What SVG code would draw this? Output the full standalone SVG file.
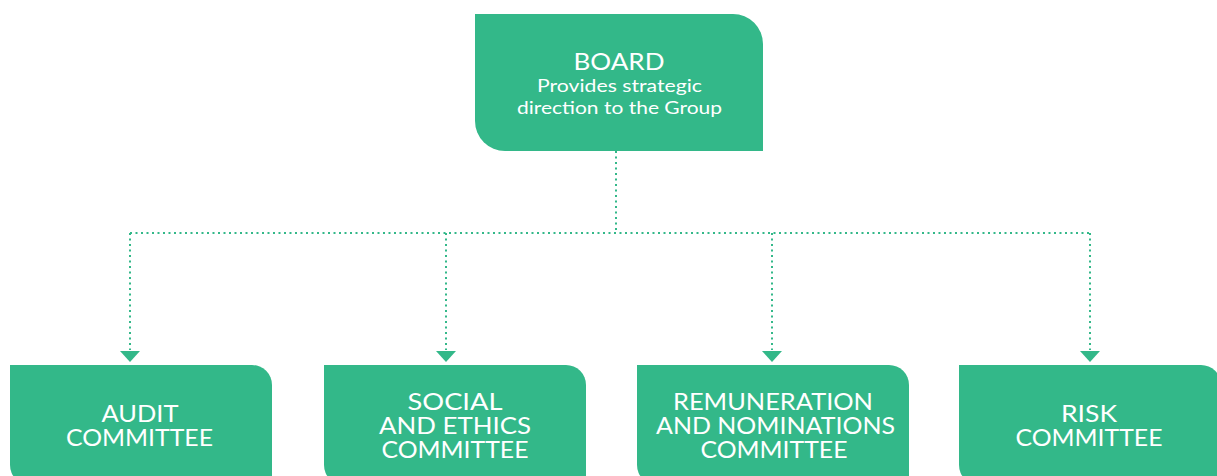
<svg xmlns="http://www.w3.org/2000/svg" width="1217" height="476" viewBox="0 0 1217 476">
<style>
.box{fill:#33b889}
.t{font-family:Lato,"Liberation Sans",sans-serif;fill:#ffffff;text-anchor:middle;font-size:23px}
.s{font-family:Lato,"Liberation Sans",sans-serif;fill:#ffffff;text-anchor:middle;font-size:17px}
.dot{fill:none;stroke:#33b889;stroke-width:2;stroke-dasharray:2 3.5}
.arr{fill:#33b889}
</style>
<rect width="1217" height="476" fill="#ffffff"/>
<g id="connectors">
<path class="dot" d="M616 151 V233"/>
<path class="dot" d="M130 233 H1090"/>
<path class="dot" d="M130 233 V350"/>
<path class="dot" d="M446 233 V350"/>
<path class="dot" d="M772 233 V350"/>
<path class="dot" d="M1090 233 V350"/>
<polygon class="arr" points="120,351 140,351 130,362"/>
<polygon class="arr" points="436,351 456,351 446,362"/>
<polygon class="arr" points="762,351 782,351 772,362"/>
<polygon class="arr" points="1080,351 1100,351 1090,362"/>
</g>
<g id="board">
<path class="box" d="M475 14 H733 A30 30 0 0 1 763 44 V151 H505 A30 30 0 0 1 475 121 Z"/>
<text class="t" x="619" y="70" textLength="91" lengthAdjust="spacingAndGlyphs">BOARD</text>
<text class="s" x="619.5" y="92" textLength="165" lengthAdjust="spacingAndGlyphs">Provides strategic</text>
<text class="s" x="619.5" y="114" textLength="205" lengthAdjust="spacingAndGlyphs">direction to the Group</text>
</g>
<g id="audit">
<path class="box" d="M10 365 H252 A20 20 0 0 1 272 385 V485 H30 A20 20 0 0 1 10 465 Z"/>
<text class="t" x="140" y="422" textLength="77" lengthAdjust="spacingAndGlyphs">AUDIT</text>
<text class="t" x="139.5" y="446" textLength="147" lengthAdjust="spacingAndGlyphs">COMMITTEE</text>
</g>
<g id="social">
<path class="box" d="M324 365 H566 A20 20 0 0 1 586 385 V485 H344 A20 20 0 0 1 324 465 Z"/>
<text class="t" x="455" y="410" textLength="95" lengthAdjust="spacingAndGlyphs">SOCIAL</text>
<text class="t" x="455" y="434" textLength="152" lengthAdjust="spacingAndGlyphs">AND ETHICS</text>
<text class="t" x="455" y="458" textLength="147" lengthAdjust="spacingAndGlyphs">COMMITTEE</text>
</g>
<g id="remuneration">
<path class="box" d="M637 365 H889 A20 20 0 0 1 909 385 V485 H657 A20 20 0 0 1 637 465 Z"/>
<text class="t" x="773" y="410" textLength="200" lengthAdjust="spacingAndGlyphs">REMUNERATION</text>
<text class="t" x="775.5" y="434" textLength="239" lengthAdjust="spacingAndGlyphs">AND NOMINATIONS</text>
<text class="t" x="774" y="458" textLength="147" lengthAdjust="spacingAndGlyphs">COMMITTEE</text>
</g>
<g id="risk">
<path class="box" d="M959 365 H1201 A20 20 0 0 1 1221 385 V485 H979 A20 20 0 0 1 959 465 Z"/>
<text class="t" x="1089" y="422" textLength="56" lengthAdjust="spacingAndGlyphs">RISK</text>
<text class="t" x="1089" y="446" textLength="147" lengthAdjust="spacingAndGlyphs">COMMITTEE</text>
</g>
</svg>
